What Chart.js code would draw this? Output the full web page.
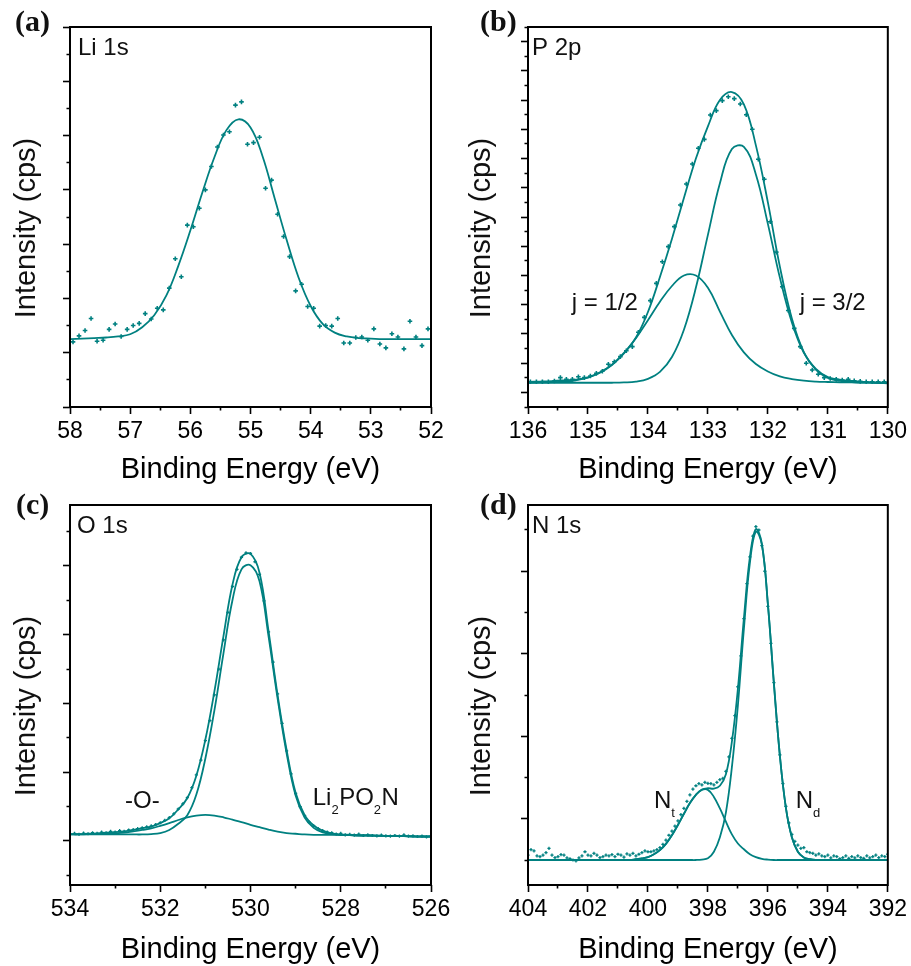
<!DOCTYPE html>
<html>
<head>
<meta charset="utf-8">
<title>XPS spectra</title>
<script src="https://cdn.jsdelivr.net/npm/chart.js"></script>
<style>
  html, body { margin: 0; padding: 0; background: #fff; }
  #page { position: relative; width: 911px; height: 966px; overflow: hidden; }
  canvas { position: absolute; }
</style>
</head>
<body>
<div id="page">
  <canvas id="chartA" width="455" height="490" style="left:0;top:0"></canvas>
  <canvas id="chartB" width="456" height="490" style="left:455px;top:0"></canvas>
  <canvas id="chartC" width="455" height="490" style="left:0;top:478px"></canvas>
  <canvas id="chartD" width="456" height="490" style="left:455px;top:478px"></canvas>
</div>
<script>
// (a) Li 1s
const liEnergy = [57.95, 57.85, 57.75, 57.65, 57.55, 57.45, 57.35, 57.25, 57.15, 57.05,
  56.95, 56.85, 56.75, 56.65, 56.55, 56.45, 56.35, 56.25, 56.15, 56.05,
  55.95, 55.85, 55.75, 55.65, 55.55, 55.45, 55.35, 55.25, 55.15, 55.05,
  54.95, 54.85, 54.75, 54.65, 54.55, 54.45, 54.35, 54.25, 54.15, 54.05,
  53.95, 53.85, 53.75, 53.65, 53.55, 53.45, 53.35, 53.25, 53.15, 53.05,
  52.95, 52.85, 52.75, 52.65, 52.55, 52.45, 52.35, 52.25, 52.15, 52.05];
const liCounts = [1.20, 1.31, 1.41, 1.63, 1.21, 1.23, 1.43, 1.53, 1.30, 1.43,
  1.50, 1.54, 1.72, 1.62, 1.82, 1.79, 2.19, 2.73, 2.40, 3.35,
  3.32, 3.66, 4.00, 4.43, 4.79, 5.01, 5.07, 5.56, 5.62, 4.84,
  4.87, 4.97, 4.03, 4.18, 3.55, 3.14, 2.77, 2.14, 2.26, 1.85,
  1.82, 1.49, 1.50, 1.49, 1.63, 1.18, 1.18, 1.28, 1.29, 1.23,
  1.44, 1.16, 1.09, 1.35, 1.29, 1.07, 1.58, 1.29, 1.13, 1.44];
const liFitEnergy = [58.0, 57.8, 57.6, 57.4, 57.2, 57.0, 56.8, 56.6, 56.4, 56.2,
  56.0, 55.8, 55.6, 55.4, 55.2, 55.0, 54.8, 54.6, 54.4, 54.2,
  54.0, 53.8, 53.6, 53.4, 53.2, 53.0, 52.8, 52.6, 52.4, 52.2, 52.0];
const liFit = [1.25, 1.26, 1.27, 1.28, 1.30, 1.34, 1.47, 1.69, 2.05, 2.60,
  3.25, 3.95, 4.60, 5.10, 5.30, 5.15, 4.62, 3.85, 3.08, 2.38,
  1.86, 1.53, 1.37, 1.30, 1.27, 1.26, 1.25, 1.25, 1.25, 1.25, 1.25];

// (b) P 2p
const pEnergy = [135.96, 135.86, 135.76, 135.66, 135.56, 135.46, 135.36, 135.26, 135.16, 135.06,
  134.96, 134.86, 134.76, 134.66, 134.56, 134.46, 134.36, 134.26, 134.16, 134.06,
  133.96, 133.86, 133.76, 133.66, 133.56, 133.46, 133.36, 133.26, 133.16, 133.06,
  132.96, 132.86, 132.76, 132.66, 132.56, 132.46, 132.36, 132.26, 132.16, 132.06,
  131.96, 131.86, 131.76, 131.66, 131.56, 131.46, 131.36, 131.26, 131.16, 131.06,
  130.96, 130.86, 130.76, 130.66, 130.56, 130.46, 130.36, 130.26, 130.16, 130.06];
const pCounts = [1.73, 1.73, 1.73, 1.73, 1.78, 2.01, 1.89, 1.89, 2.07, 2.01,
  2.12, 2.30, 2.45, 2.92, 3.10, 3.45, 3.85, 4.13, 5.11, 6.13,
  7.28, 8.46, 9.94, 10.97, 12.34, 13.82, 15.26, 16.63, 17.70, 18.31,
  19.98, 20.28, 20.96, 21.23, 21.10, 20.73, 20.00, 19.00, 16.95, 15.58,
  12.68, 10.60, 8.23, 6.60, 5.38, 4.13, 2.99, 2.53, 2.24, 2.01,
  1.95, 1.89, 1.85, 1.89, 1.80, 1.75, 1.73, 1.73, 1.73, 1.73];
const pFitEnergy = [136.0, 135.8, 135.6, 135.4, 135.2, 135.0, 134.8, 134.6, 134.4, 134.2,
  134.0, 133.8, 133.6, 133.4, 133.2, 133.0, 132.8, 132.6, 132.4, 132.2,
  132.0, 131.8, 131.6, 131.4, 131.2, 131.0, 130.8, 130.6, 130.4, 130.2, 130.0];
const pEnvelope = [1.72, 1.74, 1.77, 1.82, 1.88, 2.03, 2.38, 2.90, 3.70, 4.75,
  6.50, 8.90, 11.50, 14.30, 17.00, 19.20, 21.00, 21.55, 20.70, 17.90,
  14.00, 9.60, 6.05, 3.75, 2.60, 2.05, 1.88, 1.78, 1.72, 1.66, 1.62];
const pJ12 = [1.67, 1.68, 1.70, 1.74, 1.83, 2.01, 2.34, 2.87, 3.66, 4.71,
  5.94, 7.20, 8.28, 9.00, 9.00, 8.16, 6.53, 4.93, 3.74, 2.94,
  2.43, 2.09, 1.91, 1.80, 1.74, 1.71, 1.69, 1.68, 1.67, 1.67, 1.66];
const pJ32 = [1.66, 1.66, 1.66, 1.66, 1.66, 1.66, 1.66, 1.66, 1.68, 1.74,
  1.93, 2.40, 3.42, 5.29, 8.17, 11.78, 15.31, 17.65, 17.80, 15.91,
  12.53, 8.85, 5.79, 3.71, 2.55, 1.99, 1.78, 1.70, 1.67, 1.66, 1.66];

// (c) O 1s
const oEnergy = [534.0, 533.9, 533.8, 533.7, 533.6, 533.5, 533.4, 533.3, 533.2, 533.1,
  533.0, 532.9, 532.8, 532.7, 532.6, 532.5, 532.4, 532.3, 532.2, 532.1,
  532.0, 531.9, 531.8, 531.7, 531.6, 531.5, 531.4, 531.3, 531.2, 531.1,
  531.0, 530.9, 530.8, 530.7, 530.6, 530.5, 530.4, 530.3, 530.2, 530.1,
  530.0, 529.9, 529.8, 529.7, 529.6, 529.5, 529.4, 529.3, 529.2, 529.1,
  529.0, 528.9, 528.8, 528.7, 528.6, 528.5, 528.4, 528.3, 528.2, 528.1,
  528.0, 527.9, 527.8, 527.7, 527.6, 527.5, 527.4, 527.3, 527.2, 527.1,
  527.0, 526.9, 526.8, 526.7, 526.6, 526.5, 526.4, 526.3, 526.2, 526.1, 526.0];
const oCounts = [1.20, 1.22, 1.19, 1.23, 1.21, 1.24, 1.22, 1.26, 1.24, 1.28,
  1.26, 1.30, 1.28, 1.32, 1.33, 1.36, 1.38, 1.41, 1.44, 1.48,
  1.53, 1.60, 1.68, 1.79, 1.93, 2.08, 2.26, 2.55, 2.92, 3.35,
  3.92, 4.50, 5.25, 6.00, 6.85, 7.65, 8.40, 8.90, 9.25, 9.38,
  9.36, 9.12, 8.75, 7.98, 7.08, 6.20, 5.28, 4.42, 3.62, 2.95,
  2.38, 2.00, 1.74, 1.55, 1.44, 1.36, 1.30, 1.26, 1.24, 1.20,
  1.22, 1.18, 1.19, 1.17, 1.20, 1.16, 1.18, 1.16, 1.15, 1.17,
  1.15, 1.14, 1.16, 1.14, 1.18, 1.14, 1.15, 1.13, 1.14, 1.12, 1.13];
const oFitEnergy = [534.0, 533.8, 533.6, 533.4, 533.2, 533.0, 532.8, 532.6, 532.4, 532.2,
  532.0, 531.8, 531.6, 531.4, 531.2, 531.0, 530.8, 530.6, 530.4, 530.2,
  530.0, 529.8, 529.6, 529.4, 529.2, 529.0, 528.8, 528.6, 528.4, 528.2,
  528.0, 527.8, 527.6, 527.4, 527.2, 527.0, 526.8, 526.6, 526.4, 526.2, 526.0];
const oEnvelope = [1.20, 1.20, 1.21, 1.22, 1.24, 1.26, 1.28, 1.32, 1.37, 1.42,
  1.52, 1.66, 1.92, 2.25, 2.90, 3.95, 5.35, 6.95, 8.45, 9.25,
  9.35, 8.80, 7.10, 5.25, 3.65, 2.40, 1.75, 1.45, 1.30, 1.22,
  1.19, 1.18, 1.17, 1.16, 1.16, 1.15, 1.15, 1.14, 1.14, 1.13, 1.13];
const oLi2PO2N = [1.19, 1.19, 1.19, 1.19, 1.19, 1.19, 1.19, 1.19, 1.19, 1.20,
  1.23, 1.32, 1.50, 1.75, 2.35, 3.40, 4.80, 6.45, 8.00, 8.90,
  9.02, 8.55, 6.95, 5.15, 3.55, 2.32, 1.68, 1.38, 1.25, 1.20,
  1.18, 1.17, 1.16, 1.16, 1.15, 1.15, 1.14, 1.14, 1.13, 1.13, 1.13];
const oBridging = [1.19, 1.19, 1.20, 1.20, 1.21, 1.22, 1.24, 1.28, 1.32, 1.37,
  1.44, 1.52, 1.61, 1.69, 1.74, 1.76, 1.74, 1.69, 1.62, 1.55,
  1.47, 1.40, 1.33, 1.27, 1.23, 1.21, 1.19, 1.18, 1.18, 1.18,
  1.17, 1.17, 1.16, 1.16, 1.15, 1.15, 1.14, 1.14, 1.13, 1.13, 1.13];

// (d) N 1s
const nEnergy = [404.0, 403.9, 403.8, 403.7, 403.6, 403.5, 403.4, 403.3, 403.2, 403.1,
  403.0, 402.9, 402.8, 402.7, 402.6, 402.5, 402.4, 402.3, 402.2, 402.1,
  402.0, 401.9, 401.8, 401.7, 401.6, 401.5, 401.4, 401.3, 401.2, 401.1,
  401.0, 400.9, 400.8, 400.7, 400.6, 400.5, 400.4, 400.3, 400.2, 400.1,
  400.0, 399.9, 399.8, 399.7, 399.6, 399.5, 399.4, 399.3, 399.2, 399.1,
  399.0, 398.9, 398.8, 398.7, 398.6, 398.5, 398.4, 398.3, 398.2, 398.1,
  398.0, 397.9, 397.8, 397.7, 397.6, 397.5, 397.4, 397.3, 397.2, 397.1,
  397.0, 396.9, 396.8, 396.7, 396.6, 396.5, 396.4, 396.3, 396.2, 396.1,
  396.0, 395.9, 395.8, 395.7, 395.6, 395.5, 395.4, 395.3, 395.2, 395.1,
  395.0, 394.9, 394.8, 394.7, 394.6, 394.5, 394.4, 394.3, 394.2, 394.1,
  394.0, 393.9, 393.8, 393.7, 393.6, 393.5, 393.4, 393.3, 393.2, 393.1,
  393.0, 392.9, 392.8, 392.7, 392.6, 392.5, 392.4, 392.3, 392.2, 392.1, 392.0];
const nCounts = [0.12, 0.25, 0.22, 0.10, 0.08, 0.12, 0.18, 0.28, 0.12, 0.06,
  0.08, 0.13, 0.12, 0.05, 0.03, 0.00, -0.02, 0.05, 0.10, 0.20,
  0.12, 0.10, 0.16, 0.12, 0.06, 0.08, 0.12, 0.10, 0.13, 0.08,
  0.14, 0.12, 0.07, 0.15, 0.12, 0.16, 0.10, 0.14, 0.18, 0.22,
  0.20, 0.20, 0.22, 0.25, 0.30, 0.38, 0.48, 0.60, 0.70, 0.82,
  0.95, 1.10, 1.25, 1.42, 1.58, 1.72, 1.80, 1.85, 1.82, 1.88,
  1.86, 1.85, 1.82, 1.88, 1.95, 1.98, 2.15, 2.50, 2.95, 3.50,
  4.20, 4.95, 5.85, 6.70, 7.35, 7.85, 8.08, 8.00, 7.62, 7.00,
  6.15, 5.25, 4.30, 3.35, 2.55, 1.85, 1.30, 0.90, 0.62, 0.45,
  0.36, 0.28, 0.30, 0.20, 0.18, 0.16, 0.12, 0.15, 0.10, 0.08,
  0.12, 0.05, 0.10, 0.08, 0.03, 0.06, 0.10, 0.04, 0.08, 0.05,
  0.10, 0.06, 0.04, 0.10, 0.05, 0.08, 0.12, 0.06, 0.10, 0.08, 0.14];
const nFitEnergy = [404.0, 403.8, 403.6, 403.4, 403.2, 403.0, 402.8, 402.6, 402.4, 402.2,
  402.0, 401.8, 401.6, 401.4, 401.2,
  401.0, 400.8, 400.6, 400.4, 400.2, 400.0, 399.8, 399.6, 399.4, 399.2,
  399.0, 398.8, 398.6, 398.4, 398.2, 398.0, 397.8, 397.6, 397.4, 397.2,
  397.0, 396.8, 396.6, 396.4, 396.2, 396.0, 395.8, 395.6, 395.4, 395.2,
  395.0, 394.8, 394.6, 394.4, 394.2, 394.0, 393.8, 393.6, 393.4, 393.2,
  393.0, 392.8, 392.6, 392.4, 392.2, 392.0];
const nEnvelope = [0, 0, 0, 0, 0, 0, 0, 0, 0, 0,
  0, 0, 0, 0, 0,
  0, 0, 0, 0.02, 0.04, 0.07, 0.14, 0.24, 0.39, 0.60,
  0.85, 1.12, 1.38, 1.58, 1.71, 1.74, 1.73, 1.80, 2.08, 2.87,
  4.15, 5.86, 7.34, 8.02, 7.67, 6.21, 4.29, 2.53, 1.27, 0.55,
  0.20, 0.06, 0.02, 0, 0, 0, 0, 0, 0, 0,
  0, 0, 0, 0, 0, 0];
const nTerminal = [0, 0, 0, 0, 0, 0, 0, 0, 0, 0,
  0, 0, 0, 0, 0,
  0, 0, 0, 0.02, 0.04, 0.07, 0.14, 0.24, 0.39, 0.60,
  0.85, 1.12, 1.38, 1.58, 1.70, 1.70, 1.53, 1.25, 0.93, 0.62,
  0.40, 0.26, 0.14, 0.07, 0.03, 0.01, 0, 0, 0, 0,
  0, 0, 0, 0, 0, 0, 0, 0, 0, 0,
  0, 0, 0, 0, 0, 0];
const nDouble = [0, 0, 0, 0, 0, 0, 0, 0, 0, 0,
  0, 0, 0, 0, 0,
  0, 0, 0, 0, 0, 0, 0, 0, 0, 0,
  0, 0, 0, 0, 0.01, 0.04, 0.20, 0.55, 1.15, 2.25,
  3.75, 5.60, 7.20, 7.96, 7.64, 6.20, 4.29, 2.53, 1.27, 0.55,
  0.20, 0.06, 0.02, 0, 0, 0, 0, 0, 0, 0,
  0, 0, 0, 0, 0, 0];

const TEAL = '#008080';
const SANS = '"Liberation Sans", Arial, sans-serif';
Chart.defaults.font.family = SANS;

function pairs(xs, ys) {
  return xs.map((x, i) => ({ x: x, y: ys[i] }));
}

function pointsSet(xs, ys, size) {
  return {
    data: pairs(xs, ys),
    showLine: false,
    pointStyle: 'cross',
    pointRadius: size,
    pointHoverRadius: size,
    pointBorderWidth: size > 2 ? 1.6 : 1.3,
    borderColor: TEAL,
    backgroundColor: TEAL
  };
}

function curveSet(xs, ys) {
  return {
    data: pairs(xs, ys),
    showLine: true,
    pointRadius: 0,
    borderColor: TEAL,
    borderWidth: 1.8,
    tension: 0.4,
    fill: false
  };
}

const framePlugin = {
  id: 'frame',
  afterDraw(chart) {
    const { ctx, chartArea: a } = chart;
    ctx.save();
    ctx.strokeStyle = '#000';
    ctx.lineWidth = 2;
    ctx.strokeRect(a.left, a.top, a.right - a.left, a.bottom - a.top);
    ctx.restore();
  }
};

function textPlugin(t) {
  return {
    id: 'panelText',
    afterDraw(chart) {
      const { ctx, chartArea: a, scales } = chart;
      ctx.save();
      ctx.fillStyle = '#111';
      ctx.textAlign = 'left';
      ctx.textBaseline = 'alphabetic';
      ctx.font = 'bold 30px "Liberation Serif", "Times New Roman", serif';
      ctx.fillText(t.letter, t.letterX, t.letterY);
      ctx.font = '24px ' + SANS;
      ctx.fillText(t.element, a.left + t.elementDx, a.top + 28);
      t.labels.forEach(lab => {
        let x = scales.x.getPixelForValue(lab.x);
        const y = scales.y.getPixelForValue(lab.y);
        lab.parts.forEach(([s, sub]) => {
          ctx.font = (sub ? '13px ' : '24px ') + SANS;
          ctx.fillText(s, x, y + (sub ? 9 : 0));
          x += ctx.measureText(s).width + (sub ? 0.5 : 0);
        });
      });
      // y axis title
      ctx.translate(27, (a.top + a.bottom) / 2 + 11);
      ctx.rotate(-Math.PI / 2);
      ctx.textAlign = 'center';
      ctx.textBaseline = 'middle';
      ctx.font = '29px ' + SANS;
      ctx.fillText('Intensity (cps)', 0, 0);
      ctx.restore();
    }
  };
}

function makeChart(id, cfg) {
  const near = (v, step) => Math.abs(v / step - Math.round(v / step)) < 1e-6;
  const xMajor = v => near(v, cfg.xMajor);
  return new Chart(document.getElementById(id), {
    type: 'scatter',
    data: { datasets: cfg.datasets },
    options: {
      responsive: false,
      animation: false,
      events: [],
      layout: { padding: { left: 0, top: 27, right: cfg.padRight, bottom: 0 } },
      plugins: { legend: { display: false }, tooltip: { enabled: false } },
      scales: {
        x: {
          type: 'linear',
          reverse: true,
          min: cfg.xMin,
          max: cfg.xMax,
          afterFit: s => { s.height = 83; },
          border: { display: false },
          grid: {
            drawOnChartArea: false,
            tickLength: 7,
            tickWidth: 1.6,
            tickColor: '#000',
            tickBorderDash: c => (c.tick && !xMajor(c.tick.value)) ? [3.5, 100] : []
          },
          ticks: {
            stepSize: cfg.xStep,
            autoSkip: false,
            maxRotation: 0,
            padding: 4,
            color: '#000',
            font: { size: 23, family: SANS },
            callback: v => xMajor(v) ? String(v) : ''
          },
          title: {
            display: true,
            text: 'Binding Energy (eV)',
            color: '#000',
            font: { size: 29, family: SANS },
            padding: { top: 0, bottom: cfg.titlePad }
          }
        },
        y: {
          type: 'linear',
          min: cfg.yMin,
          max: cfg.yMax,
          afterFit: s => { s.width = cfg.yWidth; },
          border: { display: false },
          grid: {
            drawOnChartArea: false,
            tickLength: 7,
            tickWidth: 1.6,
            tickColor: '#000',
            tickBorderDash: c => (c.tick && !cfg.yMajor(c.tick.value)) ? [0, 3.5, 3.5, 100] : []
          },
          ticks: { display: false, stepSize: cfg.yStep, includeBounds: false }
        }
      }
    },
    plugins: [framePlugin, textPlugin(cfg.text)]
  });
}

const wholeTick = v => Math.abs(v - Math.round(v)) < 1e-6;
const oddTick = v => Math.abs(Math.round(v) % 2) === 1;

makeChart('chartA', {
  xMin: 52, xMax: 58, xStep: 0.5, xMajor: 1,
  yMin: 0, yMax: 7, yStep: 0.5, yMajor: wholeTick,
  yWidth: 70, padRight: 24, titlePad: 2.6,
  datasets: [pointsSet(liEnergy, liCounts, 2.3), curveSet(liFitEnergy, liFit)],
  text: { letter: '(a)', letterX: 15, letterY: 31, element: 'Li 1s', elementDx: 8, labels: [] }
});

makeChart('chartB', {
  xMin: 130, xMax: 136, xStep: 0.5, xMajor: 1,
  yMin: 0, yMax: 26, yStep: 1, yMajor: oddTick,
  yWidth: 73, padRight: 23, titlePad: 2.6,
  datasets: [pointsSet(pEnergy, pCounts, 2.3), curveSet(pFitEnergy, pEnvelope),
    curveSet(pFitEnergy, pJ12), curveSet(pFitEnergy, pJ32)],
  text: {
    letter: '(b)', letterX: 25, letterY: 31, element: 'P 2p', elementDx: 4,
    labels: [
      { x: 135.27, y: 6.64, parts: [['j = 1/2', 0]] },
      { x: 131.47, y: 6.64, parts: [['j = 3/2', 0]] }
    ]
  }
});

makeChart('chartC', {
  xMin: 526, xMax: 534, xStep: 1, xMajor: 2,
  yMin: -0.28, yMax: 10.77, yStep: 1, yMajor: oddTick,
  yWidth: 70, padRight: 24, titlePad: 0.6,
  datasets: [pointsSet(oEnergy, oCounts, 1.6), curveSet(oFitEnergy, oEnvelope),
    curveSet(oFitEnergy, oLi2PO2N), curveSet(oFitEnergy, oBridging)],
  text: {
    letter: '(c)', letterX: 16, letterY: 36, element: 'O 1s', elementDx: 7,
    labels: [
      { x: 532.78, y: 1.95, parts: [['-O-', 0]] },
      { x: 528.62, y: 2.05, parts: [['Li', 0], ['2', 1], ['PO', 0], ['2', 1], ['N', 0]] }
    ]
  }
});

makeChart('chartD', {
  xMin: 392, xMax: 404, xStep: 1, xMajor: 2,
  yMin: -0.606, yMax: 8.606, yStep: 1, yMajor: oddTick,
  yWidth: 73, padRight: 23, titlePad: 0.6,
  datasets: [pointsSet(nEnergy, nCounts, 1.6), curveSet(nFitEnergy, nEnvelope),
    curveSet(nFitEnergy, nTerminal), curveSet(nFitEnergy, nDouble)],
  text: {
    letter: '(d)', letterX: 25, letterY: 36, element: 'N 1s', elementDx: 4,
    labels: [
      { x: 399.8, y: 1.26, parts: [['N', 0], ['t', 1]] },
      { x: 395.07, y: 1.26, parts: [['N', 0], ['d', 1]] }
    ]
  }
});
</script>
</body>
</html>
